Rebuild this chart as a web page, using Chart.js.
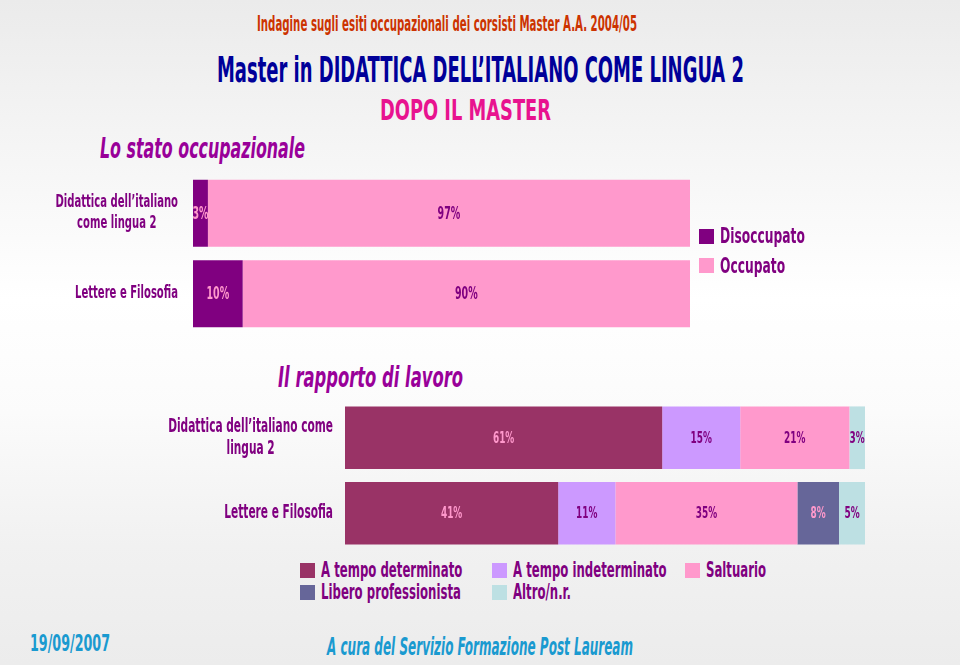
<!DOCTYPE html>
<html><head><meta charset="utf-8">
<script src="https://cdn.jsdelivr.net/npm/chart.js@4.4.1/dist/chart.umd.min.js"></script>
<style>
html,body{margin:0;padding:0}
body{width:960px;height:665px;position:relative;overflow:hidden;
background:linear-gradient(to bottom,#ebebeb 0%,#f5f5f5 22%,#ffffff 45%,#fbfbfb 62%,#f1f1f1 82%,#ececec 100%);
font-family:"Liberation Sans Narrow","DejaVu Sans Condensed","Arial Narrow",sans-serif;font-weight:bold}
.t{position:absolute;white-space:nowrap;line-height:1}
.t span{display:inline-block}
canvas{position:absolute}
.lg{position:absolute;white-space:nowrap;line-height:1}
.sq{position:absolute;width:15px;height:15px}
</style></head><body>

<div class="t" data-cx="447" data-cy="24" data-w="380" style="font-size:21px;color:#cc3300"><span>Indagine sugli esiti occupazionali dei corsisti Master A.A. 2004/05</span></div>
<div class="t" data-cx="480" data-cy="70" data-w="527" style="font-size:35px;color:#000099"><span>Master in DIDATTICA DELL’ITALIANO COME LINGUA 2</span></div>
<div class="t" data-cx="465" data-cy="111" data-w="171" style="font-size:28px;color:#e8138f"><span>DOPO IL MASTER</span></div>
<div class="t" data-cx="202" data-cy="149" data-w="205" style="font-size:28px;color:#990099;font-style:italic"><span>Lo stato occupazionale</span></div>
<div class="t" data-cx="370" data-cy="377" data-w="185" style="font-size:29px;color:#990099;font-style:italic"><span>Il rapporto di lavoro</span></div>
<div class="t" data-cx="70" data-cy="643" data-w="80" style="font-size:23px;color:#1a9ad0"><span>19/09/2007</span></div>
<div class="t" data-cx="480" data-cy="647" data-w="306" style="font-size:24px;color:#1a9ad0;font-style:italic"><span>A cura del Servizio Formazione Post Lauream</span></div>

<canvas id="c1" width="700" height="190" style="left:0;top:160px;width:700px;height:190px"></canvas>
<canvas id="c2" width="880" height="160" style="left:0;top:395px;width:880px;height:160px"></canvas>
<div id="legends"></div>

<script>
// ---- data: stato occupazionale ----
const occCategories = [['Didattica dell’italiano', 'come lingua 2'], ['Lettere e Filosofia']];
const occSeries = ['Disoccupato', 'Occupato'];
const disoccupato = [3, 10];
const occupato = [97, 90];

// ---- data: rapporto di lavoro ----
const relCategories = [['Didattica dell’italiano come', 'lingua 2'], ['Lettere e Filosofia']];
const relSeries = ['A tempo determinato', 'A tempo indeterminato', 'Saltuario', 'Libero professionista', 'Altro/n.r.'];
const tempoDeterminato = [61, 41];
const tempoIndeterminato = [15, 11];
const saltuario = [21, 35];
const liberoProfessionista = [0, 8];
const altroNr = [3, 5];

// ---- styles ----
const FONT = '"Liberation Sans Narrow","DejaVu Sans Condensed","Arial Narrow",sans-serif';
const PURPLE = '#800080';
const PINK = '#ff99cc';
const occColors = [PURPLE, PINK];
const occLabelColors = [PINK, PURPLE];
const relColors = ['#993366', '#cc99ff', '#ff99cc', '#666699', '#bde0e3'];
const relLabelColors = [PINK, PURPLE, PURPLE, PINK, PURPLE];

// horizontal condensing factor so the narrow font approximates the slide's condensed face
const mctx = document.createElement('canvas').getContext('2d');
mctx.font = 'bold 18px ' + FONT;
const SX = 103 / mctx.measureText('Lettere e Filosofia').width;

// fit HTML texts
document.querySelectorAll('.t').forEach(el => {
  const sp = el.firstElementChild;
  const w = sp.getBoundingClientRect().width;
  const h = parseFloat(el.style.fontSize);
  const k = parseFloat(el.dataset.w) / w;
  sp.style.transform = 'scaleX(' + k + ')';
  sp.style.transformOrigin = '0 0';
  el.style.left = (parseFloat(el.dataset.cx) - w * k / 2) + 'px';
  el.style.top = (parseFloat(el.dataset.cy) - h * 0.5) + 'px';
});

function drawText(ctx, s, x, y, size, color, align) {
  ctx.save();
  ctx.font = 'bold ' + size + 'px ' + FONT;
  ctx.fillStyle = color;
  ctx.textBaseline = 'middle';
  ctx.textAlign = align;
  ctx.translate(x, y);
  ctx.scale(SX, 1);
  ctx.fillText(s, 0, 0);
  ctx.restore();
}
function textW(ctx, s, size) {
  ctx.save();
  ctx.font = 'bold ' + size + 'px ' + FONT;
  const w = ctx.measureText(s).width * SX;
  ctx.restore();
  return w;
}

function slidePlugin(cfg) {
  return {
    id: 'slideLabels',
    afterDatasetsDraw(chart) {
      const ctx = chart.ctx;
      chart.data.datasets.forEach((ds, i) => {
        const meta = chart.getDatasetMeta(i);
        meta.data.forEach((el, j) => {
          const v = ds.data[j];
          if (!v) return;
          drawText(ctx, v + '%', (el.x + el.base) / 2, el.y + 1, cfg.valueSize, cfg.labelColors[i], 'center');
        });
      });
      const ys = chart.scales.y;
      const right = chart.chartArea.left - cfg.gap;
      chart.data.labels.forEach((lines, i) => {
        const yc = ys.getPixelForValue(i);
        const maxW = Math.max(...lines.map(l => textW(ctx, l, cfg.catSize)));
        const cx = right - maxW / 2;
        const y0 = yc - (lines.length - 1) * cfg.lineH / 2;
        lines.forEach((l, k) => drawText(ctx, l, cx, y0 + k * cfg.lineH, cfg.catSize, PURPLE, 'center'));
      });
    }
  };
}

function makeChart(id, cats, series, values, colors, yWidth, padding, cfg) {
  return new Chart(document.getElementById(id), {
    type: 'bar',
    data: {
      labels: cats,
      datasets: series.map((s, i) => ({
        label: s, data: values[i], backgroundColor: colors[i], borderWidth: 0,
        categoryPercentage: 1, barPercentage: 0.83
      }))
    },
    options: {
      indexAxis: 'y', responsive: false, maintainAspectRatio: false, animation: false,
      layout: { padding },
      plugins: { legend: { display: false }, tooltip: { enabled: false } },
      scales: {
        x: { stacked: true, min: 0, max: 100, display: false },
        y: { stacked: true, grid: { display: false }, border: { display: false },
             ticks: { display: false }, afterFit(s) { s.width = yWidth; } }
      }
    },
    plugins: [slidePlugin(cfg)]
  });
}

makeChart('c1', occCategories, occSeries, [disoccupato, occupato], occColors, 193,
  { top: 13, bottom: 16, left: 0, right: 10 },
  { labelColors: occLabelColors, valueSize: 17, catSize: 18, lineH: 21, gap: 15 });

makeChart('c2', relCategories, relSeries,
  [tempoDeterminato, tempoIndeterminato, saltuario, liberoProfessionista, altroNr], relColors, 345,
  { top: 5, bottom: 4, left: 0, right: 15 },
  { labelColors: relLabelColors, valueSize: 16, catSize: 19, lineH: 22, gap: 12 });

// legends (HTML) built from series arrays
const lgRoot = document.getElementById('legends');
function addLegend(label, color, x, yc, size) {
  const sq = document.createElement('div');
  sq.className = 'sq';
  sq.style.left = x + 'px'; sq.style.top = (yc - 7.5) + 'px'; sq.style.background = color;
  lgRoot.appendChild(sq);
  const t = document.createElement('div');
  t.className = 'lg';
  t.style.left = (x + 21) + 'px'; t.style.top = (yc - size * 0.5) + 'px';
  t.style.fontSize = size + 'px'; t.style.color = PURPLE;
  t.style.transform = 'scaleX(' + SX + ')'; t.style.transformOrigin = '0 0';
  t.textContent = label;
  lgRoot.appendChild(t);
}
occSeries.forEach((s, i) => addLegend(s, occColors[i], 699, 236 + i * 29.5, 22));
const colX = [300, 492, 685];
relSeries.forEach((s, i) => addLegend(s, relColors[i], colX[i % 3], 570 + Math.floor(i / 3) * 22, 21));
</script>
</body></html>
